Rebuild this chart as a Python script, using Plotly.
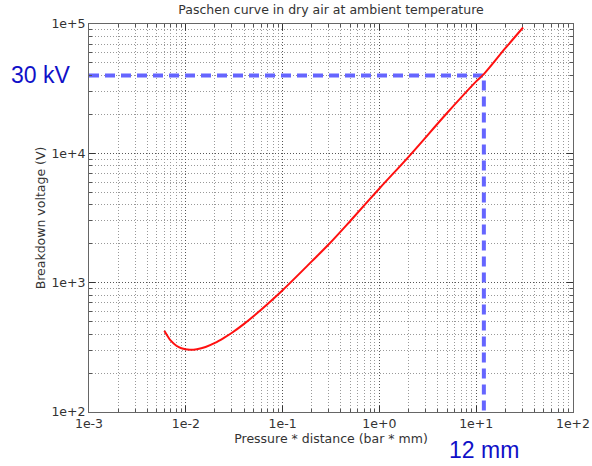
import numpy as np
import plotly.graph_objects as go

# Paschen curve values (bar*mm, volts)
pd_values = [0.006, 0.0065, 0.007, 0.008, 0.009, 0.011, 0.013, 0.016, 0.020, 0.025,
             0.030, 0.040, 0.050, 0.070, 0.10, 0.20, 0.30, 0.50, 1.0, 2.0,
             5.0, 10.0, 12.0, 20.0, 30.5]
breakdown_v = [425, 385, 356, 325, 311, 303, 306, 318, 342, 376,
               410, 480, 550, 685, 875, 1460, 1980, 3000, 5350, 9400,
               20500, 36000, 41000, 65000, 94000]

# highlighted operating point
target_pd = [12.0]
target_v = [40000]

x_tick_vals = [1e-3, 1e-2, 1e-1, 1e0, 1e1, 1e2]
x_tick_text = ["1e-3", "1e-2", "1e-1", "1e+0", "1e+1", "1e+2"]
y_tick_vals = [1e2, 1e3, 1e4, 1e5]
y_tick_text = ["1e+2", "1e+3", "1e+4", "1e+5"]

title_text = "Paschen curve in dry air at ambient temperature"
x_title = "Pressure * distance (bar * mm)"
y_title = "Breakdown voltage (V)"
v_label = "30 kV"
d_label = "12 mm"

x_range = [x_tick_vals[0], x_tick_vals[-1]]
y_range = [y_tick_vals[0], y_tick_vals[-1]]

FONT = "DejaVu Sans"
TXT = "#333333"

fig = go.Figure()

# guide lines
fig.add_trace(go.Scatter(
    x=[x_range[0], target_pd[0], target_pd[0]],
    y=[target_v[0], target_v[0], y_range[0]],
    mode="lines",
    line=dict(color="#6565ff", width=4, dash="10px,6px"),
    hoverinfo="skip", showlegend=False,
))

fig.add_trace(go.Scatter(
    x=pd_values, y=breakdown_v, mode="lines",
    line=dict(color="#ff1010", width=2, shape="spline", smoothing=1.0),
    showlegend=False,
))

axis_common = dict(
    type="log", automargin=False,
    showline=True, linecolor="#666666", linewidth=1, mirror="allticks",
    ticks="inside", ticklen=6, tickcolor="#333333",
    showgrid=True, gridcolor="#555555", griddash="1px,2px", gridwidth=1,
    zeroline=False,
    tickfont=dict(family=FONT, size=12.5, color=TXT),
    minor=dict(dtick="D1", ticks="inside", ticklen=3, tickcolor="#555555",
               showgrid=True, gridcolor="#999999", griddash="1px,2px", gridwidth=1),
)

fig.update_xaxes(**axis_common, range=[np.log10(x_range[0]), np.log10(x_range[1])],
                 tickvals=x_tick_vals, ticktext=x_tick_text,
                 title=dict(text=x_title, font=dict(family=FONT, size=12.5, color=TXT),
                            standoff=2))
fig.update_yaxes(**axis_common, range=[np.log10(y_range[0]), np.log10(y_range[1])],
                 tickvals=y_tick_vals, ticktext=y_tick_text,
                 title=dict(text=y_title, font=dict(family=FONT, size=12.5, color=TXT),
                            standoff=3))

fig.add_annotation(text=v_label, xref="paper", x=-0.1, yref="y", y=np.log10(target_v[0]),
                   showarrow=False, xanchor="center", yanchor="middle",
                   font=dict(family="Liberation Sans", size=23, color="#1010c8"))
fig.add_annotation(text=d_label, xref="x", x=np.log10(target_pd[0]), yref="paper", y=-0.098,
                   showarrow=False, xanchor="center", yanchor="middle",
                   font=dict(family="Liberation Sans", size=23, color="#1010c8"))

fig.update_layout(
    width=592, height=466,
    margin=dict(l=89, r=19, t=24, b=54),
    paper_bgcolor="white", plot_bgcolor="white",
    title=dict(text=title_text, x=0.5, xref="paper", xanchor="center",
               y=1 - 10 / 466, yref="container", yanchor="middle",
               font=dict(family=FONT, size=12.5, color=TXT)),
)

fig.write_html("out.html",
               config={"displayModeBar": False},
               post_script="document.body.style.margin='0';document.body.style.overflow='hidden';")
